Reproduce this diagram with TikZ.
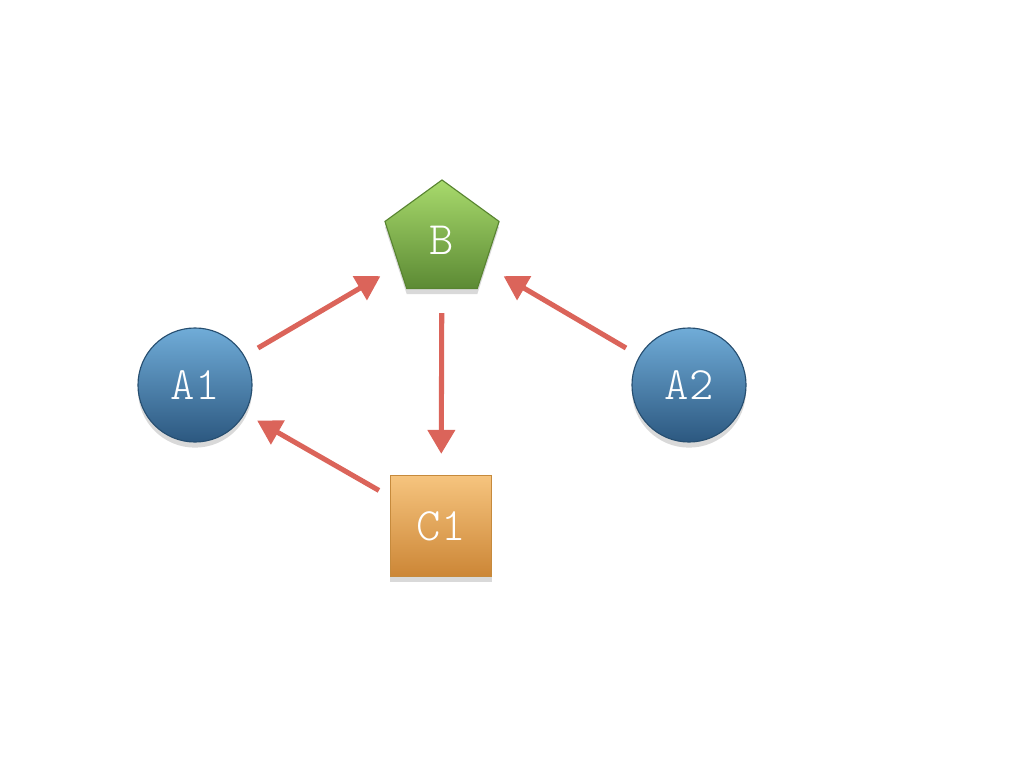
\documentclass[tikz,border=0pt]{standalone}
\usepackage{fontspec}
\usetikzlibrary{shapes.geometric,arrows.meta,shadows}

\definecolor{arrowred}{RGB}{219,100,90}
\definecolor{atop}{RGB}{112,172,216}
\definecolor{abot}{RGB}{44,88,128}
\definecolor{aline}{RGB}{38,78,112}
\definecolor{btop}{RGB}{168,218,108}
\definecolor{bbot}{RGB}{92,138,52}
\definecolor{bline}{RGB}{88,132,48}
\definecolor{ctop}{RGB}{246,196,126}
\definecolor{cbot}{RGB}{204,134,54}
\definecolor{cline}{RGB}{198,138,60}

\begin{document}
\begin{tikzpicture}[
x=0.025cm, y=-0.025cm,
base/.style={
    draw,
    line width=0.8pt,
    inner sep=0pt,
    text=white,
    font=\ttfamily\fontseries{l}\fontsize{33}{38}\selectfont,
    drop shadow={shadow xshift=0pt, shadow yshift=-4pt, fill=black, opacity=0.15}
},
agent/.style={
    base,
    circle,
    minimum size=2.85cm,
    draw=aline,
    top color=atop,
    bottom color=abot
},
pent/.style={
    base,
    regular polygon,
    regular polygon sides=5,
    minimum size=3cm,
    draw=bline,
    top color=btop,
    bottom color=bbot
},
sq/.style={
    base,
    rectangle,
    minimum width=2.525cm,
    minimum height=2.525cm,
    draw=cline,
    top color=ctop,
    bottom color=cbot
},
arr/.style={
    -{Triangle[length=17pt,width=19pt]},
    draw=arrowred,
    line width=3.6pt,
    shorten <=11pt,
    shorten >=15pt
}
]

\useasboundingbox (0,0) rectangle (1024,768);

\node[agent] (a1) at (195,385) {A1};
\node[agent] (a2) at (689,385) {A2};
\node[pent]  (b)  at (442,240) {B};
\node[sq]    (c1) at (441,526) {C1};

% A1 -- B
\draw[arr] (a1) -- (b);

% A2 -- B
\draw[arr] (a2) -- (b);

% B -- C1
\draw[arr, shorten <=17pt] (b) -- (c1);

% C1 -- A1
\draw[arr, shorten <=9pt, shorten >=10pt] (c1) -- (a1);

\end{tikzpicture}
\end{document}
